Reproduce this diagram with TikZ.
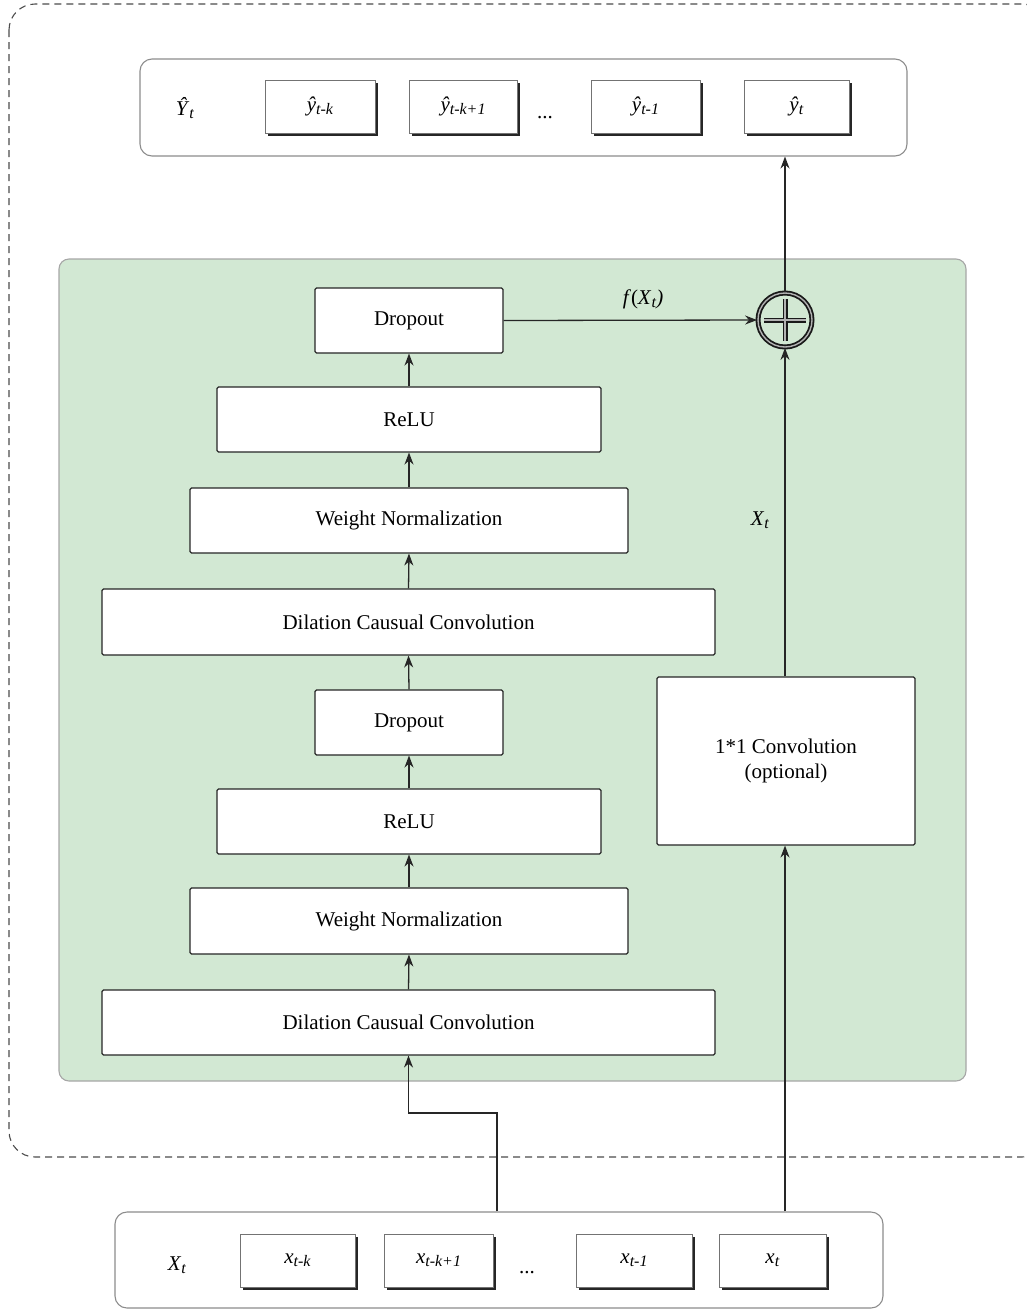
\documentclass[tikz,border=0pt]{standalone}
\usepackage{fontspec}
\setmainfont{Liberation Serif}
\usetikzlibrary{arrows.meta,shadows,calc}

\definecolor{blockgreen}{HTML}{D2E8D3}

\newcommand{\sub}[1]{\raisebox{-0.35ex}{\fontsize{16}{18}\selectfont\textit{#1}}}

\tikzset{
  lbl/.style={font=\fontsize{21}{25}\selectfont},
  layer/.style={draw=black!85, line width=1.1pt, fill=white, rounded corners=1.5pt,
    minimum height=65pt, lbl, align=center},
  cell/.style={draw=black!55, line width=0.9pt, fill=white, minimum height=53pt,
    lbl, drop shadow={shadow xshift=2.5pt, shadow yshift=-2.5pt, opacity=1, fill=black!85}},
  seqbox/.style={draw=black!45, line width=1.1pt, rounded corners=12pt},
  arr/.style={draw=black!85, line width=1.3pt, -{Stealth[length=12pt,width=9pt]}},
  ring/.style={draw=black!90, line width=1.8pt, double=black!30, double distance=1.4pt},
}

\begin{document}
\begin{tikzpicture}[x=1pt,y=-1pt]
\useasboundingbox (0,0) rectangle (1027,1310);

% outer dashed frame, its right side runs past the page edge
\begin{scope}
  \clip (0,0) rectangle (1027,1310);
  \draw[black!70, line width=1.1pt, dash pattern=on 7pt off 5pt, rounded corners=26pt]
    (9,4) rectangle (1048,1157);
\end{scope}

% residual block background
\draw[fill=blockgreen, draw=black!35, line width=1.1pt, rounded corners=10pt]
  (59,259) rectangle (966,1081);

% output sequence
\node[seqbox, minimum width=767pt, minimum height=97pt] (out) at (523.5,107.5) {};
\node[lbl] (Yhat) at (185,108) {\textit{Ŷ}\sub{t}};
\node[cell, minimum width=110pt] (yk)  at (320,106.5) {\textit{ŷ}\sub{t-k}};
\node[cell, minimum width=108pt] (yk1) at (463,106.5) {\textit{ŷ}\sub{t-k+1}};
\node[lbl] (ydots) at (545,118) {...};
\node[cell, minimum width=109pt] (y1)  at (645.5,106.5) {\textit{ŷ}\sub{t-1}};
\node[cell, minimum width=105pt] (yt)  at (796.5,106.5) {\textit{ŷ}\sub{t}};

% input sequence
\node[seqbox, minimum width=768pt, minimum height=96pt] (in) at (499,1260) {};
\node[lbl] (X) at (177,1265) {\textit{X}\sub{t}};
\node[cell, minimum width=115pt] (xk)  at (297.5,1260.5) {\textit{x}\sub{t-k}};
\node[cell, minimum width=109pt] (xk1) at (438.5,1260.5) {\textit{x}\sub{t-k+1}};
\node[lbl] (xdots) at (527,1273) {...};
\node[cell, minimum width=116pt] (x1)  at (634,1260.5) {\textit{x}\sub{t-1}};
\node[cell, minimum width=107pt] (xt)  at (772.5,1260.5) {\textit{x}\sub{t}};

% layer stack
\node[layer, minimum width=188pt] (dp1)   at (409,320.5) {Dropout};
\node[layer, minimum width=384pt] (relu1) at (409,419.5) {ReLU};
\node[layer, minimum width=438pt] (wn1)   at (409,520.5) {Weight Normalization};
\node[layer, minimum width=613pt, minimum height=66pt] (dcc1) at (408.5,622) {Dilation Causual Convolution};
\node[layer, minimum width=188pt] (dp2)   at (409,722.5) {Dropout};
\node[layer, minimum width=384pt] (relu2) at (409,821.5) {ReLU};
\node[layer, minimum width=438pt, minimum height=66pt] (wn2) at (409,921) {Weight Normalization};
\node[layer, minimum width=613pt] (dcc2)  at (408.5,1022.5) {Dilation Causual Convolution};

% shortcut branch
\node[layer, minimum width=258pt, minimum height=168pt] (conv) at (786,761) {1*1 Convolution\\(optional)};

% addition node
\node[circle, minimum size=54pt, ring] (plus) at (785,320) {};
\draw[ring]
  ($(plus.center)+(-21,0)$) -- ($(plus.center)+(21,0)$)
  ($(plus.center)+(0,-21)$) -- ($(plus.center)+(0,21)$);

% connections within the stack
\draw[arr] (dcc2.north) -- (wn2.south);
\draw[arr] (wn2.north) -- (relu2.south);
\draw[arr] (relu2.north) -- (dp2.south);
\draw[arr] (dp2.north) -- (dcc1.south);
\draw[arr] (dcc1.north) -- (wn1.south);
\draw[arr] (wn1.north) -- (relu1.south);
\draw[arr] (relu1.north) -- (dp1.south);

% residual sum and output
\draw[arr] (dp1.east) -- (plus.west);
\node[lbl] (fx) at (643,299) {\textit{f}(\textit{X}\sub{t}\textit{)}};
\draw[arr] (conv.north -| plus) -- (plus.south);
\node[lbl] (xlab) at (760,520) {\textit{X}\sub{t}};
\draw[arr] (plus.north) -- (plus |- out.south);

% inputs into the block
\coordinate (bend) at (497,1113);
\draw[arr] (bend |- in.north) -- (bend) -| (dcc2.south);
\draw[arr] (in.north -| plus) -- (conv.south -| plus);
\end{tikzpicture}
\end{document}
